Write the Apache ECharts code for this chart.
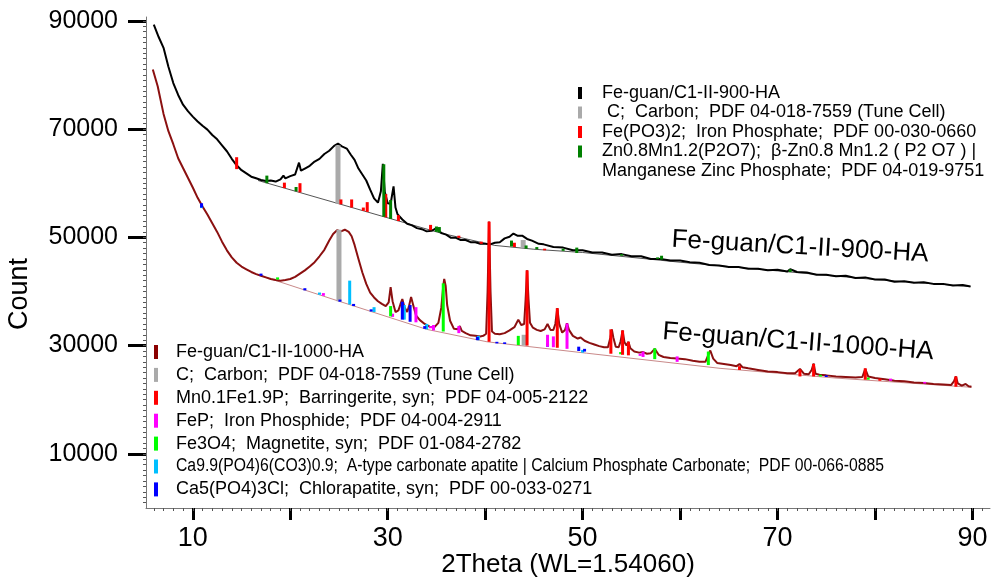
<!DOCTYPE html>
<html>
<head>
<meta charset="utf-8">
<script src="https://cdn.jsdelivr.net/npm/echarts@6/dist/echarts.min.js"></script>
<style>
  html, body { margin: 0; padding: 0; background: #fff; }
  #chart { width: 996px; height: 577px; }
</style>
</head>
<body>
<div id="chart"></div>
<script>
// tick labels
const xTickLabels = [10, 30, 50, 70, 90];
const xMajorTicks = [10, 20, 30, 40, 50, 60, 70, 80, 90];
const yTickLabels = [10000, 30000, 50000, 70000, 90000];

// measured patterns [2theta, count]
const trace900 = [[6.0,89300],[6.5,87000],[7.0,85000],[7.5,81500],[8.0,78500],[8.5,76300],[9.0,74500],[9.5,73300],[10.0,72300],[10.5,71400],[11.0,70600],[11.5,69900],[12.0,68900],[12.5,68100],[13.0,67000],[13.5,65900],[14.0,64500],[14.5,63300],[15.0,62400],[15.5,61800],[16.0,61200],[16.5,60900],[17.0,60600],[17.5,60400],[18.0,60500],[18.5,60300],[19.0,60700],[19.3,61400],[19.5,60900],[20.0,61300],[20.5,61600],[20.9,63800],[21.1,62300],[21.5,62700],[22.0,63200],[22.5,64000],[23.0,64500],[23.5,65400],[24.0,66000],[24.5,66900],[24.9,67300],[25.3,66800],[25.8,66400],[26.2,65300],[26.6,64300],[27.0,62700],[27.4,61600],[27.8,60500],[28.2,58800],[28.6,57200],[29.0,56400],[29.3,58500],[29.5,63600],[29.7,58400],[30.0,56300],[30.3,56200],[30.6,59400],[30.8,55500],[31.0,54300],[31.5,53300],[32.0,52500],[32.5,52200],[33.0,51700],[33.5,51500],[34.0,51100],[34.5,51200],[35.0,51700],[35.5,50800],[36.0,50500],[36.5,49900],[37.0,49900],[37.5,49500],[38.0,49500],[38.5,49100],[39.0,49100],[39.5,48800],[40.0,48800],[40.5,48700],[41.0,49000],[41.5,49100],[42.0,49800],[42.5,50100],[42.9,50700],[43.3,50300],[43.8,50300],[44.3,49700],[44.8,49400],[45.5,48800],[46.0,48700],[47.0,48200],[48.0,48100],[49.0,47600],[50.0,47600],[51.0,47200],[52.0,47200],[53.0,46800],[54.0,46900],[55.0,46500],[56.0,46500],[57.0,46000],[58.0,46000],[59.0,45700],[60.0,45700],[61.0,45400],[62.0,45300],[63.0,44900],[64.0,44800],[65.0,44500],[66.0,44500],[67.0,44200],[68.0,44200],[69.0,43900],[70.0,44000],[71.0,43700],[71.3,44100],[72.0,43600],[73.0,43500],[74.0,43100],[75.0,43100],[76.0,42800],[77.0,42900],[78.0,42500],[79.0,42600],[80.0,42200],[81.0,42200],[82.0,41800],[83.0,41900],[84.0,41600],[85.0,41700],[86.0,41400],[87.0,41400],[88.0,41100],[89.0,41200],[89.8,40900]];

const trace1000 = [[5.9,81000],[6.4,77900],[7.0,72800],[7.5,69600],[8.0,67200],[8.5,64600],[9.0,62800],[9.5,61000],[10.0,59200],[10.5,57300],[11.0,55700],[11.5,54200],[12.0,52600],[12.5,51000],[13.0,49200],[13.5,47600],[14.0,46300],[14.5,45300],[15.0,44600],[15.5,44100],[16.0,43600],[16.5,43200],[17.0,42900],[17.5,42600],[18.0,42300],[18.5,42100],[19.0,42000],[19.5,42100],[20.0,42300],[20.5,42700],[21.0,43300],[21.5,43900],[22.0,44600],[22.5,45400],[23.0,46500],[23.5,47700],[24.0,49400],[24.4,50600],[24.8,51300],[25.2,51100],[25.6,51400],[26.0,51000],[26.3,50200],[26.6,48600],[27.0,46000],[27.4,43500],[27.8,41400],[28.2,39800],[28.6,38900],[29.0,38200],[29.4,37700],[29.8,37300],[30.1,38000],[30.3,40800],[30.5,38200],[30.8,36200],[31.1,36500],[31.3,37600],[31.5,38600],[31.7,37200],[32.0,36200],[32.2,37400],[32.4,39000],[32.6,37600],[32.9,35600],[33.3,34700],[33.8,34000],[34.3,33500],[34.8,33400],[35.2,34200],[35.5,37000],[35.7,41000],[35.8,42300],[35.95,41000],[36.1,37500],[36.4,34600],[36.8,33100],[37.2,33000],[37.4,33600],[37.6,32700],[38.0,32300],[38.5,31900],[39.0,31800],[39.5,31700],[39.8,31800],[40.1,32200],[40.25,40000],[40.4,52900],[40.55,40000],[40.7,32600],[41.0,32200],[41.5,32100],[42.0,32300],[42.5,32800],[43.0,33400],[43.4,34800],[43.7,33800],[44.0,34000],[44.15,38500],[44.3,43900],[44.45,38500],[44.6,34200],[44.9,33300],[45.3,32900],[45.7,32700],[46.1,33000],[46.4,34000],[46.7,32900],[47.0,32900],[47.2,34000],[47.4,36900],[47.6,34000],[47.9,32400],[48.2,32900],[48.4,34100],[48.6,32900],[49.0,31800],[49.5,31300],[49.8,31500],[50.2,30900],[50.7,30500],[51.2,30200],[51.7,29900],[52.2,29700],[52.6,29700],[52.85,31500],[53.0,33000],[53.15,31500],[53.4,29800],[53.7,29700],[53.9,30800],[54.1,32800],[54.3,30600],[54.5,30000],[54.7,30700],[54.9,29500],[55.3,28900],[55.8,28700],[56.2,28800],[56.6,28500],[57.0,28600],[57.4,29400],[57.8,28300],[58.3,27900],[59.0,27700],[59.7,27600],[60.5,27500],[61.3,27200],[62.0,27000],[62.6,27000],[62.9,28300],[63.1,29100],[63.4,27600],[63.8,26800],[64.5,26600],[65.2,26400],[65.8,26200],[66.1,26600],[66.4,26000],[67.0,25800],[68.0,25500],[69.0,25200],[70.0,25100],[71.0,24900],[71.8,24900],[72.3,25700],[72.7,24800],[73.2,24700],[73.5,25500],[73.7,26700],[73.9,24800],[74.3,24600],[75.0,24500],[76.0,24300],[77.0,24200],[78.0,24100],[78.7,24200],[79.0,25700],[79.3,24300],[80.0,24000],[81.0,23800],[82.0,23500],[83.0,23400],[84.0,23200],[85.0,23100],[86.0,22900],[87.0,22800],[87.8,22700],[88.1,23400],[88.3,24300],[88.5,23000],[88.9,22600],[89.3,22900],[89.6,22500],[89.9,22400]];

const base900 = [[16.7,60500],[35.4,50800],[41.0,48500],[45.0,47800],[50.0,47200],[60.0,45400],[70.0,43800],[80.0,42200],[89.8,40900]];
const base1000 = [[17.0,42900],[25.0,38200],[34.0,33000],[40.2,30700],[50.4,28600],[64.1,25800],[76.0,24000],[89.9,22300]];

// reference sticks [2theta, bottom, top]
const carbon900 = [[24.9,56200,67000],[43.9,48000,49500]];
const fePO3 = [[14.5,62600,64800],[19.4,59100,60100],[21.0,58300,60000],[25.2,56100,57000],[26.3,55500,57000],[27.5,54900,55500],[27.9,54700,56500],[29.8,53700,58000],[31.1,53000,54100],[34.4,51300,52300],[37.3,49900,50300],[39.6,48800,49200],[43.0,48200,49000],[46.1,47600,47900]];
const znMnP2O7 = [[17.6,60000,61400],[20.6,58500,59300],[29.6,53800,63500],[30.3,53400,56900],[35.0,51000,52000],[35.3,50900,51900],[42.7,48300,49400],[44.2,47900,48500],[45.3,47800,48200],[48.0,47500,47900],[49.4,47100,48100],[54.0,46600,46900],[57.7,46000,46300],[58.1,45900,46600],[71.3,43600,44100]];

const carbon1000 = [[25.0,38200,51400],[44.0,30000,32000]];
const mnFeP = [[40.4,30700,52900],[44.3,30000,43900],[47.4,29600,36900],[52.9,28500,33000],[54.1,28300,32800],[54.7,28200,30700],[66.1,25500,26200],[72.3,24300,25600],[73.7,24300,26600],[79.0,23700,25800],[80.5,23500,23900],[88.3,22400,24300]];
const feP = [[23.4,39200,39700],[30.5,35300,35900],[32.9,34300,37100],[34.4,33200,33600],[34.7,32800,33800],[37.3,32300,33600],[46.4,29800,32000],[47.0,29700,31700],[48.4,29400,34100],[55.9,28100,28500],[56.2,27900,28900],[59.7,27000,28000],[81.6,23500,23900],[85.1,23000,23300]];
const fe3o4 = [[18.7,42200,42600],[30.3,35400,37300],[35.7,32600,41500],[43.4,30100,31800],[53.9,28400,28800],[57.4,27500,29500],[62.9,26400,28900],[74.4,24300,24600],[79.3,23700,24100]];
const carbApatite = [[10.9,55400,56000],[23.0,39400,39800],[26.1,37600,42000],[28.6,36200,37100],[31.7,34800,37500],[34.0,33000,34000],[39.3,31000,31800],[50.0,28700,29200]];
const chlorApatite = [[10.9,55500,56300],[17.0,42900,43300],[21.5,40200,40600],[25.1,38100,38500],[26.5,37300,37700],[28.3,36300,36700],[31.5,34800,38100],[32.3,34400,37500],[33.8,33100,33600],[39.2,31000,31600],[41.2,30400,30700],[42.0,30300,30600],[46.4,29800,30400],[49.6,29000,29800],[50.2,28900,29400],[75.0,24200,24500]];

const legend900Labels = [
  'Fe-guan/C1-II-900-HA',
  ' C;  Carbon;  PDF 04-018-7559 (Tune Cell)',
  'Fe(PO3)2;  Iron Phosphate;  PDF 00-030-0660',
  'Zn0.8Mn1.2(P2O7);  \u03b2-Zn0.8 Mn1.2 ( P2 O7 ) |',
  'Manganese Zinc Phosphate;  PDF 04-019-9751'
];
const legend900Colors = ['#000000', '#aaaaaa', '#ff0000', '#008000', null];
const legend1000Labels = [
  'Fe-guan/C1-II-1000-HA',
  'C;  Carbon;  PDF 04-018-7559 (Tune Cell)',
  'Mn0.1Fe1.9P;  Barringerite, syn;  PDF 04-005-2122',
  'FeP;  Iron Phosphide;  PDF 04-004-2911',
  'Fe3O4;  Magnetite, syn;  PDF 01-084-2782',
  'Ca9.9(PO4)6(CO3)0.9;  A-type carbonate apatite | Calcium Phosphate Carbonate;  PDF 00-066-0885',
  'Ca5(PO4)3Cl;  Chlorapatite, syn;  PDF 00-033-0271'
];
const legend1000Colors = ['#8b0000', '#aaaaaa', '#ff0000', '#ff00ff', '#00ff00', '#00bfff', '#0000ff'];

const FONT = '"Liberation Sans", Arial, sans-serif';
const X_MIN = 5.2, X_MAX = 91.8, Y_MIN = 0, Y_MAX = 90700;

const minorX = [];
for (let v = 6; v <= 91; v++) minorX.push(v);
const minorY = [];
for (let v = 1000; v <= 90000; v += 1000) minorY.push(v);

function sticks(name, data, color, w) {
  return {
    type: 'custom',
    name: name,
    data: data,
    z: 5,
    encode: { x: 0, y: [1, 2] },
    renderItem: function (params, api) {
      const top = api.coord([api.value(0), api.value(2)]);
      const bot = api.coord([api.value(0), api.value(1)]);
      return {
        type: 'rect',
        shape: { x: top[0] - w / 2, y: top[1], width: w, height: bot[1] - top[1] },
        style: { fill: color }
      };
    }
  };
}

function line(name, data, color, width, z) {
  return {
    type: 'line', name: name, data: data, showSymbol: false, symbol: 'none',
    lineStyle: { color: color, width: width }, z: z
  };
}

// legends drawn as graphic boxes + text
const graphics = [];
legend900Labels.forEach((t, i) => {
  const y = 93 + i * 19.5;
  if (legend900Colors[i]) {
    graphics.push({ type: 'rect', shape: { x: 578, y: y - 6, width: 4, height: 12 }, style: { fill: legend900Colors[i] } });
  }
  graphics.push({ type: 'text', x: 602, y: y, style: { text: t, font: '18px ' + FONT, fill: '#000', textVerticalAlign: 'middle' } });
});
legend1000Labels.forEach((t, i) => {
  const y = 352 + i * 22.9;
  graphics.push({ type: 'rect', shape: { x: 154, y: y - 7, width: 4, height: 14 }, style: { fill: legend1000Colors[i] } });
  // the long apatite line is squeezed in the original
  graphics.push({ type: 'text', x: 176, y: y, scaleX: i === 5 ? 0.875 : 1, style: { text: t, font: '18px ' + FONT, fill: '#000', textVerticalAlign: 'middle' } });
});
graphics.push({ type: 'text', x: 800, y: 247, rotation: -0.058, style: { text: 'Fe-guan/C1-II-900-HA', font: '26px ' + FONT, fill: '#000', textAlign: 'center', textVerticalAlign: 'middle' } });
graphics.push({ type: 'text', x: 798, y: 342, rotation: -0.075, style: { text: 'Fe-guan/C1-II-1000-HA', font: '26px ' + FONT, fill: '#000', textAlign: 'center', textVerticalAlign: 'middle' } });
graphics.push({ type: 'text', x: 20, y: 294, rotation: Math.PI / 2, style: { text: 'Count', font: '27px ' + FONT, fill: '#000', textAlign: 'center', textVerticalAlign: 'middle' } });

const chart = echarts.init(document.getElementById('chart'), null, { renderer: 'canvas' });
chart.setOption({
  animation: false,
  backgroundColor: '#fff',
  grid: { left: 146, right: 6, top: 17, bottom: 69, containLabel: false, outerBoundsMode: 'none' },
  xAxis: [
    {
      type: 'value', min: X_MIN, max: X_MAX,
      position: 'bottom',
      name: '2Theta (WL=1.54060)', nameLocation: 'middle', nameGap: 44, nameMoveOverlap: false,
      nameTextStyle: { fontSize: 26, fontFamily: FONT, color: '#000' },
      axisLine: { show: true, lineStyle: { color: '#777', width: 1 } },
      axisTick: { show: true, customValues: xMajorTicks, length: 12, lineStyle: { color: '#000', width: 3 } },
      axisLabel: { customValues: xTickLabels, fontSize: 27, fontFamily: FONT, color: '#000', margin: 17 },
      splitLine: { show: false }
    },
    {
      type: 'value', min: X_MIN, max: X_MAX, position: 'bottom',
      axisLine: { show: false },
      axisTick: { show: true, customValues: minorX, length: 3, lineStyle: { color: '#555', width: 1 } },
      axisLabel: { show: false },
      splitLine: { show: false }
    }
  ],
  yAxis: [
    {
      type: 'value', min: Y_MIN, max: Y_MAX,
      position: 'left',
      axisLine: { show: true, lineStyle: { color: '#777', width: 1 } },
      axisTick: { show: true, customValues: yTickLabels, length: 18, lineStyle: { color: '#000', width: 3 } },
      axisLabel: { customValues: yTickLabels, formatter: (v) => String(v), fontSize: 25, fontFamily: FONT, color: '#000', margin: 28 },
      splitLine: { show: false }
    },
    {
      type: 'value', min: Y_MIN, max: Y_MAX, position: 'left',
      axisLine: { show: false },
      axisTick: { show: true, customValues: minorY, length: 3, lineStyle: { color: '#555', width: 1 } },
      axisLabel: { show: false },
      splitLine: { show: false }
    }
  ],
  graphic: graphics,
  series: [
    line('Fe-guan/C1-II-900-HA', trace900, '#000000', 2, 3),
    line('base900', base900, '#555555', 1, 2),
    line('Fe-guan/C1-II-1000-HA', trace1000, '#8b1010', 2, 3),
    line('base1000', base1000, '#c98a8a', 1, 2),
    sticks('C 900', carbon900, '#aaaaaa', 5),
    sticks('Fe(PO3)2', fePO3, '#ff0000', 3),
    sticks('Zn0.8Mn1.2(P2O7)', znMnP2O7, '#008000', 3),
    sticks('C 1000', carbon1000, '#aaaaaa', 5),
    sticks('Ca9.9(PO4)6(CO3)0.9', carbApatite, '#00bfff', 3),
    sticks('Ca5(PO4)3Cl', chlorApatite, '#0000ff', 3),
    sticks('FeP', feP, '#ff00ff', 3),
    sticks('Fe3O4', fe3o4, '#00ff00', 3),
    sticks('Mn0.1Fe1.9P', mnFeP, '#ff0000', 3)
  ]
});
</script>
</body>
</html>
